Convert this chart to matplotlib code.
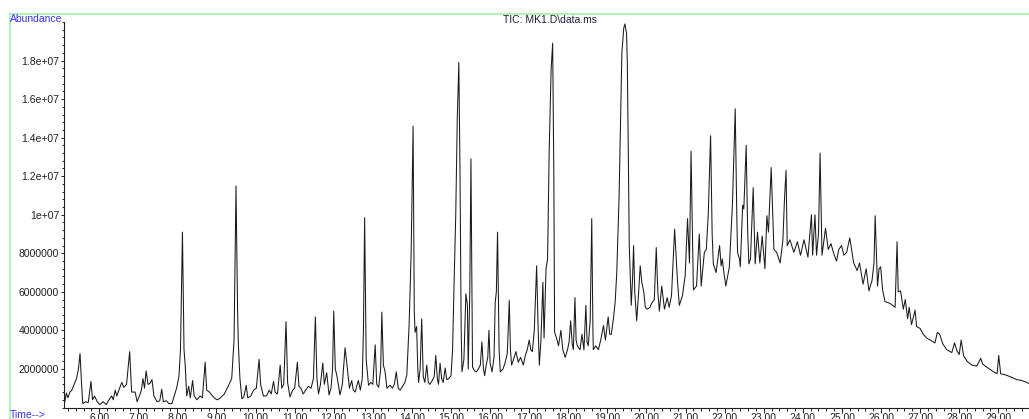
import numpy as np
import matplotlib
matplotlib.use('Agg')
import matplotlib.pyplot as plt
from matplotlib.lines import Line2D
from matplotlib.ticker import MultipleLocator

plt.rcParams['font.family'] = ['Liberation Sans', 'DejaVu Sans']

# TIC trace: retention time (min) and abundance (x 1e6)
rt = [5.12, 5.16, 5.2, 5.25, 5.3, 5.36, 5.42, 5.47, 5.51, 5.55, 5.58, 5.65, 5.72, 5.79, 5.83, 5.88,
      5.95, 6.02, 6.1, 6.18, 6.25, 6.32, 6.36, 6.41, 6.45, 6.52, 6.58, 6.63, 6.7, 6.78, 6.83, 6.92,
      6.97, 7.03, 7.08, 7.12, 7.16, 7.2, 7.25, 7.3, 7.35, 7.4, 7.48, 7.55, 7.6, 7.64, 7.72, 7.78,
      7.86, 7.92, 7.98, 8.04, 8.08, 8.13, 8.17, 8.2, 8.24, 8.29, 8.33, 8.39, 8.43, 8.5, 8.58, 8.64,
      8.71, 8.75, 8.82, 8.9, 8.97, 9.03, 9.1, 9.2, 9.3, 9.39, 9.45, 9.5, 9.54, 9.56, 9.6, 9.65,
      9.7, 9.76, 9.8, 9.88, 9.95, 10.02, 10.09, 10.13, 10.2, 10.28, 10.35, 10.4, 10.46, 10.5, 10.56,
      10.63, 10.67, 10.72, 10.78, 10.82, 10.88, 10.95, 11.0, 11.07, 11.11, 11.16, 11.22, 11.28,
      11.35, 11.42, 11.48, 11.53, 11.57, 11.61, 11.66, 11.72, 11.76, 11.82, 11.88, 11.93, 11.97,
      12.0, 12.04, 12.08, 12.16, 12.22, 12.29, 12.35, 12.4, 12.46, 12.5, 12.55, 12.6, 12.63, 12.68,
      12.73, 12.76, 12.79, 12.83, 12.89, 12.95, 13.0, 13.06, 13.1, 13.15, 13.2, 13.23, 13.27, 13.31,
      13.36, 13.44, 13.5, 13.55, 13.6, 13.65, 13.7, 13.76, 13.82, 13.87, 13.93, 13.98, 14.03, 14.06,
      14.08, 14.12, 14.15, 14.17, 14.21, 14.25, 14.29, 14.33, 14.38, 14.42, 14.46, 14.52, 14.57,
      14.61, 14.65, 14.68, 14.72, 14.76, 14.8, 14.85, 14.89, 14.94, 15.0, 15.04, 15.08, 15.12, 15.16,
      15.2, 15.23, 15.26, 15.28, 15.33, 15.38, 15.42, 15.44, 15.48, 15.51, 15.55, 15.6, 15.65, 15.7,
      15.75, 15.79, 15.83, 15.86, 15.9, 15.94, 15.97, 16.0, 16.05, 16.1, 16.13, 16.16, 16.19, 16.23,
      16.26, 16.33, 16.38, 16.44, 16.49, 16.52, 16.55, 16.6, 16.66, 16.72, 16.78, 16.85, 16.9, 16.95,
      17.0, 17.04, 17.08, 17.13, 17.19, 17.23, 17.26, 17.3, 17.35, 17.38, 17.43, 17.47, 17.51, 17.56,
      17.6, 17.63, 17.65, 17.7, 17.75, 17.81, 17.86, 17.92, 17.98, 18.02, 18.06, 18.1, 18.13, 18.17,
      18.2, 18.23, 18.3, 18.35, 18.4, 18.45, 18.48, 18.51, 18.56, 18.6, 18.63, 18.64, 18.7, 18.77,
      18.83, 18.9, 18.95, 19.02, 19.06, 19.1, 19.16, 19.2, 19.24, 19.3, 19.37, 19.42, 19.45, 19.49,
      19.51, 19.54, 19.56, 19.61, 19.64, 19.67, 19.7, 19.75, 19.8, 19.84, 19.88, 19.93, 19.97, 20.02,
      20.09, 20.13, 20.2, 20.25, 20.29, 20.33, 20.39, 20.46, 20.53, 20.58, 20.64, 20.72, 20.79, 20.84,
      20.92, 20.99, 21.05, 21.1, 21.14, 21.2, 21.28, 21.35, 21.4, 21.48, 21.53, 21.58, 21.64, 21.68,
      21.71, 21.78, 21.87, 21.91, 21.94, 21.98, 22.03, 22.12, 22.2, 22.27, 22.31, 22.33, 22.38, 22.4,
      22.46, 22.49, 22.55, 22.59, 22.62, 22.66, 22.73, 22.78, 22.84, 22.9, 22.96, 23.03, 23.08, 23.12,
      23.19, 23.26, 23.33, 23.42, 23.49, 23.53, 23.57, 23.6, 23.67, 23.77, 23.86, 23.94, 24.03, 24.13,
      24.22, 24.25, 24.31, 24.35, 24.4, 24.44, 24.49, 24.58, 24.65, 24.72, 24.78, 24.86, 24.92, 24.99,
      25.05, 25.12, 25.2, 25.3, 25.39, 25.45, 25.54, 25.62, 25.69, 25.77, 25.82, 25.85, 25.91, 25.95,
      25.99, 26.04, 26.1, 26.23, 26.36, 26.41, 26.44, 26.5, 26.57, 26.62, 26.68, 26.72, 26.78, 26.87,
      26.91, 27.0, 27.08, 27.17, 27.3, 27.38, 27.44, 27.5, 27.58, 27.68, 27.81, 27.88, 27.94, 28.0,
      28.05, 28.11, 28.2, 28.32, 28.45, 28.55, 28.6, 28.7, 28.88, 28.97, 29.01, 29.06, 29.17, 29.3,
      29.47, 29.6, 29.73, 29.78]
abund = [0.3, 0.75, 0.5, 0.8, 0.9, 1.2, 1.5, 2.0, 2.8, 1.2, 0.2, 0.3, 0.25, 1.35, 0.4, 0.6,
         0.3, 0.15, 0.3, 0.15, 0.4, 0.6, 0.4, 0.9, 0.6, 1.0, 1.3, 1.05, 1.2, 2.9, 0.8, 0.8,
         0.3, 0.6, 0.9, 1.5, 1.0, 1.9, 1.2, 1.25, 1.45, 0.6, 0.3, 0.35, 0.95, 0.3, 0.35, 0.2,
         0.2, 0.6, 1.0, 1.6, 3.0, 9.1, 3.0, 2.2, 0.6, 1.1, 0.5, 1.4, 0.6, 0.4, 0.6, 0.5,
         2.35, 0.9, 0.8, 0.6, 0.45, 0.4, 0.5, 0.7, 1.1, 1.5, 3.5, 11.5, 5.0, 3.3, 1.5, 0.45,
         0.55, 1.15, 0.5, 0.6, 0.9, 1.0, 2.5, 1.2, 0.6, 0.6, 0.9, 0.7, 1.35, 0.8, 0.7,
         2.2, 1.0, 1.2, 4.45, 1.3, 0.55, 0.9, 1.0, 2.35, 1.1, 1.0, 0.7, 0.9,
         1.1, 1.0, 1.5, 4.7, 1.5, 0.7, 1.2, 2.3, 1.2, 1.8, 0.65, 1.0, 2.0,
         5.0, 2.0, 1.65, 0.65, 1.2, 3.1, 2.0, 1.0, 1.4, 0.9, 0.8, 1.2, 1.4, 0.9,
         1.5, 4.0, 9.85, 2.5, 1.15, 1.3, 1.2, 3.25, 1.2, 1.05, 2.0, 4.95, 2.2, 1.9,
         1.0, 1.15, 1.0, 1.2, 1.85, 1.0, 0.9, 1.1, 1.3, 1.7, 4.4, 8.0, 14.6, 5.0,
         3.9, 4.2, 2.0, 1.3, 2.0, 4.6, 1.6, 1.3, 2.2, 1.3, 1.2, 1.4, 1.6,
         2.7, 1.5, 1.2, 2.3, 1.5, 1.3, 2.05, 1.45, 1.5, 1.65, 3.0, 6.6, 9.9, 15.0,
         17.9, 12.2, 4.0, 1.85, 2.5, 5.9, 5.3, 2.0, 6.0, 12.9, 2.1, 1.9, 1.85, 2.0,
         2.2, 3.4, 2.0, 1.65, 2.2, 2.6, 4.0, 2.3, 1.85, 2.6, 5.45, 6.0, 9.1, 3.0,
         1.85, 2.0, 2.3, 2.8, 5.55, 3.0, 2.2, 2.5, 2.9, 2.35, 2.6, 2.2, 2.7, 3.0,
         3.5, 3.0, 2.9, 4.0, 7.35, 4.0, 2.2, 3.5, 6.5, 3.6, 7.2, 7.7, 13.2, 17.5,
         18.9, 12.0, 3.9, 3.6, 3.2, 4.0, 3.0, 2.6, 3.0, 3.4, 4.5, 3.3, 3.0, 5.7,
         3.5, 3.2, 3.0, 3.8, 3.0, 5.3, 3.4, 3.2, 4.5, 9.8, 4.0, 3.0, 3.2, 3.0,
         3.5, 4.25, 3.5, 4.7, 3.8, 3.8, 4.7, 5.5, 7.0, 11.0, 18.4, 19.7, 19.9, 19.4,
         17.9, 12.0, 8.4, 5.3, 6.5, 8.4, 6.0, 4.5, 6.0, 7.35, 6.5, 6.0, 5.2, 5.1,
         5.2, 5.4, 5.6, 8.3, 6.0, 5.0, 6.3, 5.1, 5.7, 5.2, 5.8, 9.25, 6.66, 5.3,
         5.8, 6.85, 9.8, 7.5, 13.3, 6.1, 6.3, 9.0, 6.3, 8.05, 8.2, 10.0, 14.1, 9.0,
         7.45, 7.0, 8.4, 7.35, 7.7, 7.0, 6.3, 7.3, 10.6, 15.5, 10.0, 8.05, 7.7, 7.3,
         10.5, 10.3, 13.6, 9.0, 7.45, 7.7, 11.4, 7.45, 9.1, 7.5, 8.9, 7.2, 9.95, 9.1,
         12.45, 8.2, 8.05, 7.5, 8.7, 10.8, 12.3, 8.4, 8.7, 8.05, 8.6, 7.9, 8.7, 7.8,
         10.0, 7.9, 10.0, 7.9, 9.0, 13.2, 7.9, 9.3, 8.2, 8.5, 8.05, 7.6, 8.2, 8.4,
         7.9, 8.05, 8.8, 7.5, 7.1, 7.5, 6.4, 7.2, 6.05, 6.6, 7.5, 9.95, 6.3, 7.2,
         7.3, 6.1, 5.5, 5.4, 5.2, 8.6, 6.0, 6.05, 5.1, 5.6, 4.6, 5.2, 4.3, 5.05,
         4.2, 4.1, 3.8, 3.6, 3.45, 3.35, 3.9, 3.8, 3.3, 3.0, 2.85, 3.35, 2.95, 2.75,
         3.5, 2.7, 2.4, 2.2, 2.15, 2.55, 2.25, 2.1, 1.85, 1.75, 2.7, 1.75, 1.7, 1.6,
         1.45, 1.4, 1.3, 1.25]

x_ticks = np.arange(6, 30)
x_labels = ['%.2f' % t for t in x_ticks]
y_ticks = [2e6, 4e6, 6e6, 8e6, 1e7, 1.2e7, 1.4e7, 1.6e7, 1.8e7]
y_labels = ['2000000', '4000000', '6000000', '8000000', '1e+07', '1.2e+07', '1.4e+07', '1.6e+07', '1.8e+07']

W, H = 1029, 419
fig = plt.figure(figsize=(W / 100, H / 100), dpi=100)
ax = fig.add_axes([64 / W, 1 - 407.5 / H, (W - 64) / W, (407.5 - 22.0) / H])

ax.plot(rt, np.array(abund) * 1e6, color='#1a1a1a', lw=0.75)

ax.set_xlim(5.1, 29.785)
ax.set_ylim(0, 2.0e7)
ax.spines['top'].set_visible(False)
ax.spines['right'].set_visible(False)
for s in ('left', 'bottom'):
    ax.spines[s].set_linewidth(0.8)
    ax.spines[s].set_color('#202020')

ax.set_xticks(x_ticks)
ax.set_xticklabels(x_labels)
ax.xaxis.set_minor_locator(MultipleLocator(0.2))
ax.set_yticks(y_ticks)
ax.set_yticklabels(y_labels)
ax.yaxis.set_minor_locator(MultipleLocator(4e5))
ax.tick_params(axis='x', which='major', length=3.5, width=0.7, pad=0.5, labelsize=7.5, colors='#202020')
ax.tick_params(axis='x', which='minor', length=2, width=0.6)
ax.tick_params(axis='y', which='major', length=2.5, width=0.7, pad=1, labelsize=7.5, colors='#202020')
ax.tick_params(axis='y', which='minor', length=1.5, width=0.6)

# light green frame of the instrument printout
green = '#a8f0a8'
fig.add_artist(Line2D([10 / W, 1], [1 - 14 / H, 1 - 14 / H], color=green, lw=1.2))
fig.add_artist(Line2D([10 / W, 10 / W], [0, 1 - 14 / H], color=green, lw=1.2))

fig.text(10 / W, 1 - 19 / H, 'Abundance', color='#3333ff', fontsize=7.5, ha='left', va='center')
fig.text(10 / W, 1 - 415 / H, 'Time-->', color='#3333ff', fontsize=7.5, ha='left', va='center')
fig.text(550 / W, 1 - 20 / H, 'TIC: MK1.D\\data.ms', color='#202040', fontsize=7.5, ha='center', va='center')

fig.savefig('out.png', dpi=100)
